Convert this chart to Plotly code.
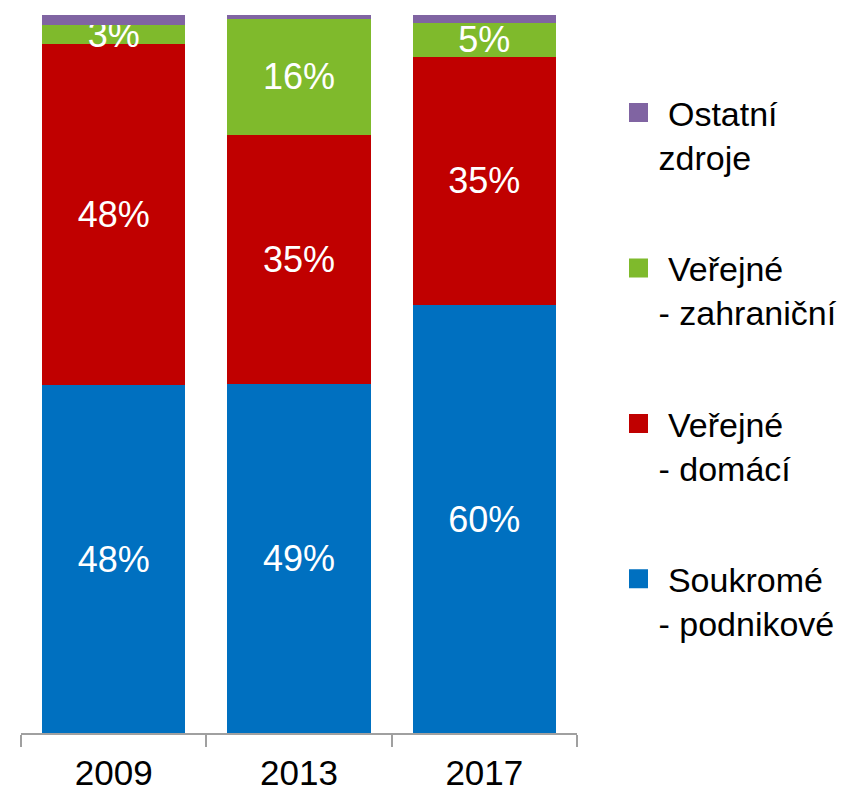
import plotly.graph_objects as go

years = ["2009", "2013", "2017"]
soukrome = [48.4, 48.6, 59.6]
verejne_domaci = [47.6, 34.7, 34.6]
verejne_zahranicni = [2.6, 16.2, 4.7]
ostatni = [1.4, 0.5, 1.1]

names = ["Soukromé - podnikové", "Veřejné - domácí", "Veřejné - zahraniční", "Ostatní zdroje"]
legend_text = [
    "\u00a0Soukromé<br>- podnikové",
    "\u00a0Veřejné<br>- domácí",
    "\u00a0Veřejné<br>- zahraniční",
    "\u00a0Ostatní<br>zdroje",
]
colors = ["#0070C0", "#C00000", "#7FBA2C", "#8064A2"]
series = [soukrome, verejne_domaci, verejne_zahranicni, ostatni]
show_labels = [True, True, True, False]

FONT = "Liberation Sans, Arial, sans-serif"

# page body has an 8px default margin; compensate so plot area sits at the reference pixels
OFF = 8
W, H = 854 - OFF, 794 - OFF

fig = go.Figure()
for vals, name, col, lab in zip(series, names, colors, show_labels):
    fig.add_trace(go.Bar(
        x=years, y=vals, name=name, showlegend=False,
        marker=dict(color=col, line=dict(width=0)),
        texttemplate="%{y:.0f}%" if lab else None,
        textposition="inside" if lab else "none",
        insidetextanchor="middle",
        constraintext="none",
        textangle=0,
        textfont=dict(family=FONT, size=36, color="white"),
        cliponaxis=False,
        hoverinfo="skip",
    ))

# legend entries (top to bottom)
for i in [3, 2, 1, 0]:
    fig.add_trace(go.Scatter(
        x=[None], y=[None], mode="markers", name=legend_text[i],
        legendgroup=f"g{i}",
        marker=dict(symbol="square", size=16, color=colors[i],
                    line=dict(width=3, color=colors[i])),
        showlegend=True,
    ))

fig.update_layout(
    width=W, height=H,
    margin=dict(l=21 - OFF, r=277, t=15 - OFF, b=61, autoexpand=False),
    barmode="stack", bargap=0.228,
    plot_bgcolor="white", paper_bgcolor="white",
    font=dict(family=FONT, color="black"),
    showlegend=True,
    legend=dict(
        x=(618.5 - 21) / 556, xanchor="left",
        y=(733 - 84) / 718, yanchor="top",
        traceorder="grouped", tracegroupgap=64,
        valign="top",
        font=dict(family=FONT, size=34, color="black"),
        bgcolor="rgba(0,0,0,0)", borderwidth=0,
        itemclick=False, itemdoubleclick=False,
    ),
    xaxis=dict(
        type="category", range=[-0.5, 2.5],
        showline=True, linecolor="#A0A0A0", linewidth=1.5,
        ticks="outside", ticklen=12, tickwidth=1.5, tickcolor="#A0A0A0",
        tickson="boundaries", showgrid=False, zeroline=False,
        tickfont=dict(family=FONT, size=35, color="black"),
        ticklabelstandoff=8, automargin=False,
        fixedrange=True,
    ),
    yaxis=dict(range=[0, 100], visible=False, fixedrange=True, automargin=False),
)

fig.write_html("out.html")
